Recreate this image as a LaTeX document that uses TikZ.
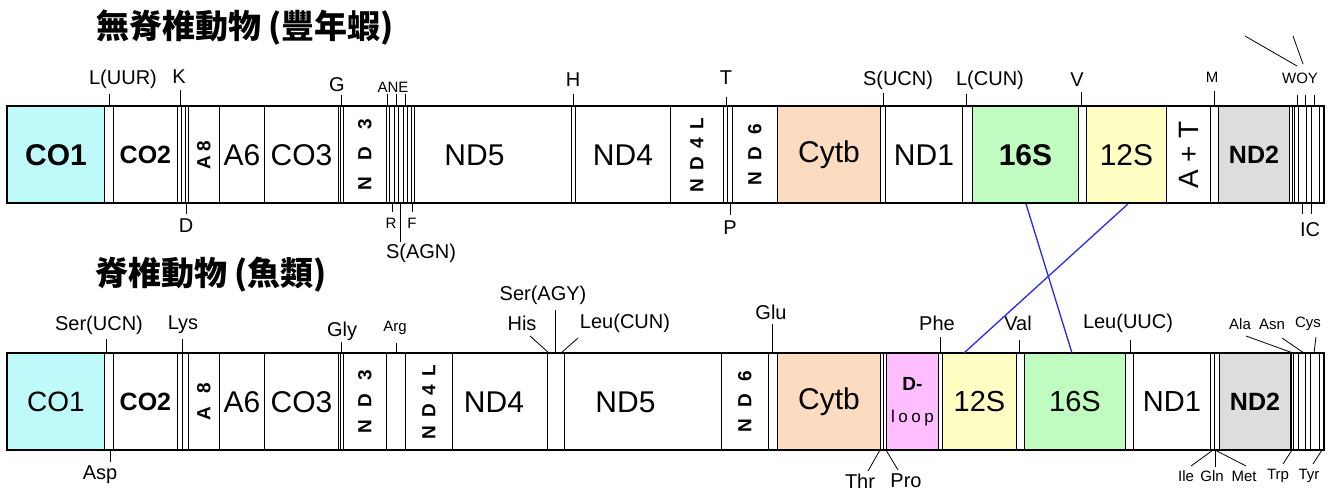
\documentclass[tikz,border=0pt]{standalone}
\usepackage{fontspec}
\setmainfont{Liberation Sans}
\newfontfamily\cjk{Noto Sans CJK TC}[BoldFont={Noto Sans CJK TC Black}]
\usepackage{tikz}
\usetikzlibrary{arrows.meta,positioning,calc}

\definecolor{coifill}{RGB}{191,250,250}
\definecolor{cytbfill}{RGB}{252,220,192}
\definecolor{rnalfill}{RGB}{192,252,192}
\definecolor{rnasfill}{RGB}{255,255,196}
\definecolor{ndiifill}{RGB}{221,221,221}
\definecolor{loopfill}{RGB}{255,190,255}
\definecolor{linkblue}{RGB}{40,40,245}

\begin{document}
\begin{tikzpicture}[x=1pt,y=-1pt,>=Latex]
  \tikzstyle{title}=[inner sep=0pt,font=\cjk\bfseries\fontsize{33}{36}\selectfont]
  \tikzstyle{gene}=[draw,line width=0.9pt,minimum height=97pt,inner sep=0pt,anchor=north west,font=\fontsize{30}{32}\selectfont]
  \tikzstyle{boldgene}=[gene,font=\fontsize{25}{27}\selectfont\bfseries]
  \tikzstyle{vgene}=[gene,font=\fontsize{19}{21}\selectfont\bfseries]
  \tikzstyle{strip}=[draw,line width=0.9pt,fill=white]
  \tikzstyle{lab}=[inner sep=0pt,font=\fontsize{20}{22}\selectfont]
  \tikzstyle{slab}=[inner sep=0pt,font=\fontsize{15}{17}\selectfont]
  \tikzstyle{tick}=[line width=0.8pt]
  \tikzstyle{link}=[line width=1.3pt,draw=linkblue]
  \useasboundingbox (0,0) rectangle (1331,492);

  % titles
  \node[title] (t-inv) at (245,28) {無脊椎動物 (豐年蝦)};
  \node[title] (t-vert) at (211,275) {脊椎動物 (魚類)};

  % invertebrate genome
  \foreach \a/\b in {104/113,177/181.5,181.5/185,185/188,338/340.5,340.5/343,386/389.3,389.3/394,394/398.7,398.7/403.3,403.3/407.7,407.7/411.7,411.7/414,571/575,723/727,727/732,880/885,962/972,1078/1086,1210/1218,1289/1292,1292/1294.3,1294.3/1298.3,1298.3/1306.7,1306.7/1311,1311/1319.3,1319.3/1324}
    \draw[strip] (\a,106) rectangle (\b,203);
  \node[gene,fill=coifill,minimum width=97pt,font=\fontsize{30}{32}\selectfont\bfseries] (a-co1) at (7,106) {CO1};
  \node[boldgene,minimum width=64pt] (a-co2) at (113,106) {CO2};
  \node[vgene,minimum width=31pt] (a-a8) at (188,106) {\rotatebox{90}{A\hspace{4pt}8}};
  \node[gene,minimum width=45pt] (a-a6) at (219,106) {A6};
  \node[gene,minimum width=74pt] (a-co3) at (264,106) {CO3};
  \node[vgene,minimum width=43pt] (a-nd3) at (343,106) {\rotatebox{90}{N\hspace{17pt}D\hspace{17pt}3}};
  \node[gene,minimum width=157pt] (a-nd5) at (414,106) {ND5\hspace*{37pt}};
  \node[gene,minimum width=95pt] (a-nd4) at (575,106) {ND4};
  \node[vgene,minimum width=53pt] (a-nd4l) at (670,106) {\rotatebox{90}{N\hspace{8.5pt}D\hspace{8.5pt}4\hspace{8.5pt}L}};
  \node[vgene,minimum width=45pt] (a-nd6) at (732,106) {\rotatebox{90}{N\hspace{12pt}D\hspace{12pt}6}};
  \node[gene,fill=cytbfill,minimum width=103pt] (a-cytb) at (777,106) {Cytb};
  \node[gene,minimum width=77pt] (a-nd1) at (885,106) {ND1};
  \node[gene,fill=rnalfill,minimum width=106pt,font=\fontsize{30}{32}\selectfont\bfseries] (a-16s) at (972,106) {16S};
  \node[gene,fill=rnasfill,minimum width=80pt] (a-12s) at (1086,106) {12S};
  \node[gene,minimum width=44pt,font=\fontsize{28}{30}\selectfont] (a-at) at (1166,106) {\rotatebox{90}{A + T}};
  \node[boldgene,fill=ndiifill,minimum width=71pt] (a-nd2) at (1218,106) {ND2};
  \draw[line width=1.6pt] (7,106) rectangle (1324,203);

  % invertebrate tRNA labels
  \node[lab] (l-luur) at (123,79) {L(UUR)};
  \node[lab] (l-k) at (179,77) {K};
  \node[lab] (l-g) at (337,85) {G};
  \node[slab] (l-ane) at (393,87) {ANE};
  \node[lab] (l-h) at (573,80) {H};
  \node[lab] (l-t) at (726,78) {T};
  \node[lab] (l-sucn) at (898,80) {S(UCN)};
  \node[lab] (l-lcun) at (990,80) {L(CUN)};
  \node[lab] (l-v) at (1077,80) {V};
  \node[slab] (l-m) at (1212,77) {M};
  \node[slab] (l-woy) at (1300,78) {WOY};
  \node[lab] (l-d) at (186,226) {D};
  \node[slab] (l-r) at (391,223) {R};
  \node[slab] (l-f) at (412,223) {F};
  \node[lab] (l-sagn) at (421,253) {S(AGN)};
  \node[lab] (l-p) at (730,228) {P};
  \node[lab] (l-ic) at (1310,230) {IC};

  \coordinate (k-luur) at (109,94);
  \coordinate (k-k) at (180,90);
  \coordinate (k-g) at (341,95);
  \coordinate (k-a) at (387,94);
  \coordinate (k-n) at (396,94);
  \coordinate (k-e) at (405,94);
  \coordinate (k-h) at (573,94);
  \coordinate (k-t) at (726,97);
  \coordinate (k-sucn) at (883,93);
  \coordinate (k-lcun) at (966,94);
  \coordinate (k-v) at (1081,92);
  \coordinate (k-m) at (1214,91);
  \coordinate (k-w) at (1297,95);
  \coordinate (k-o) at (1305,95);
  \coordinate (k-y) at (1314,95);
  \coordinate (k-d) at (186,214);
  \coordinate (k-r) at (392,212);
  \coordinate (k-sagn) at (400,242);
  \coordinate (k-f) at (412,212);
  \coordinate (k-p) at (730,215);
  \coordinate (k-i) at (1302,214);
  \coordinate (k-c) at (1311,214);
  \foreach \k in {luur,k,g,a,n,e,h,t,sucn,lcun,v,m,w,o,y}
    \draw[tick] (k-\k) -- (k-\k |- a-co1.north);
  \foreach \k in {d,r,sagn,f,p,i,c}
    \draw[tick] (k-\k |- a-co1.south) -- (k-\k);
  \coordinate (k-w2) at (1245,36);
  \coordinate (k-o2) at (1293,36);
  \draw[tick] (k-w2) -- (1297,66);
  \draw[tick] (k-o2) -- (1303,64);

  % vertebrate genome
  \foreach \a/\b in {104/113,177/182,182/188,338/340,340/343,386/405,547/564,768/777,880/883,883/886,938/942,1016/1024,1125/1133,1210/1214,1214/1219,1290/1291.7,1291.7/1293.3,1293.3/1298.3,1298.3/1305,1305/1310,1310/1319,1319/1324}
    \draw[strip] (\a,353) rectangle (\b,450);
  \node[gene,fill=coifill,minimum width=97pt,font=\fontsize{28}{30}\selectfont] (b-co1) at (7,353) {CO1};
  \node[boldgene,minimum width=64pt] (b-co2) at (113,353) {CO2};
  \node[vgene,minimum width=31pt] (b-a8) at (188,353) {\rotatebox{90}{A\hspace{13pt}8}};
  \node[gene,minimum width=45pt] (b-a6) at (219,353) {A6};
  \node[gene,minimum width=74pt] (b-co3) at (264,353) {CO3};
  \node[vgene,minimum width=43pt] (b-nd3) at (343,353) {\rotatebox{90}{N\hspace{13pt}D\hspace{13pt}3}};
  \node[vgene,minimum width=47pt] (b-nd4l) at (405,353) {\rotatebox{90}{N\hspace{8.5pt}D\hspace{8.5pt}4\hspace{8.5pt}L}};
  \node[gene,minimum width=95pt] (b-nd4) at (452,353) {ND4\hspace*{12pt}};
  \node[gene,minimum width=157pt] (b-nd5) at (564,353) {ND5\hspace*{35pt}};
  \node[vgene,minimum width=47pt] (b-nd6) at (721,353) {\rotatebox{90}{N\hspace{12pt}D\hspace{12pt}6}};
  \node[gene,fill=cytbfill,minimum width=103pt] (b-cytb) at (777,353) {Cytb};
  \node[gene,fill=loopfill,minimum width=52pt,align=center] (b-dloop) at (886,353)
    {{\fontsize{19}{24}\selectfont\bfseries D-}\\{\fontsize{17}{20}\selectfont l\hspace{3.5pt}o\hspace{3.5pt}o\hspace{3.5pt}p}};
  \node[gene,fill=rnasfill,minimum width=74pt,font=\fontsize{29}{31}\selectfont] (b-12s) at (942,353) {12S};
  \node[gene,fill=rnalfill,minimum width=101pt,font=\fontsize{29}{31}\selectfont] (b-16s) at (1024,353) {16S};
  \node[gene,minimum width=77pt,font=\fontsize{29}{31}\selectfont] (b-nd1) at (1133,353) {ND1};
  \node[boldgene,fill=ndiifill,minimum width=71pt] (b-nd2) at (1219,353) {ND2};
  \draw[line width=1.6pt] (7,353) rectangle (1324,450);

  % vertebrate tRNA labels
  \node[lab] (m-sucn) at (99,325) {Ser(UCN)};
  \node[lab] (m-lys) at (183,325) {Lys};
  \node[lab] (m-gly) at (342,331) {Gly};
  \node[slab] (m-arg) at (395,328) {Arg};
  \node[lab] (m-sagy) at (543,295) {Ser(AGY)};
  \node[lab] (m-his) at (522,323) {His};
  \node[lab] (m-lcun) at (625,323) {Leu(CUN)};
  \node[lab] (m-glu) at (771,312) {Glu};
  \node[lab] (m-phe) at (937,323) {Phe};
  \node[lab] (m-val) at (1018,323) {Val};
  \node[lab] (m-luuc) at (1128,323) {Leu(UUC)};
  \node[slab] (m-ala) at (1240,324) {Ala};
  \node[slab] (m-asn) at (1272,324) {Asn};
  \node[slab] (m-cys) at (1308,324) {Cys};
  \node[lab] (m-asp) at (100,475) {Asp};
  \node[lab] (m-thr) at (860,481) {Thr};
  \node[lab] (m-pro) at (906,481) {Pro};
  \node[slab] (m-ile) at (1186,476) {Ile};
  \node[slab] (m-gln) at (1212,476) {Gln};
  \node[slab] (m-met) at (1244,476) {Met};
  \node[slab] (m-trp) at (1278,476) {Trp};
  \node[slab] (m-tyr) at (1309,476) {Tyr};

  \coordinate (n-sucn) at (106,339);
  \coordinate (n-lys) at (182,339);
  \coordinate (n-gly) at (341,342);
  \coordinate (n-arg) at (396,343);
  \coordinate (n-sagy) at (555,310);
  \coordinate (n-glu) at (772,324);
  \coordinate (n-phe) at (940,337);
  \coordinate (n-val) at (1019,340);
  \coordinate (n-luuc) at (1130,340);
  \foreach \k in {sucn,lys,gly,arg,sagy,glu,phe,val,luuc}
    \draw[tick] (n-\k) -- (n-\k |- b-co1.north);
  \coordinate (n-asp) at (110,462);
  \draw[tick] (n-asp |- b-co1.south) -- (n-asp);
  \draw[tick] (530,336) -- (549,353);
  \draw[tick] (578,338) -- (561,353);
  \draw[tick] (1246,336) -- (1293,353);
  \draw[tick] (1282,338) -- (1304,353);
  \draw[tick] (1316,337) -- (1314,353);
  \draw[tick] (880,450) -- (868,471);
  \draw[tick] (886,450) -- (898,470);
  \draw[tick] (1213,450) -- (1191,466);
  \draw[tick] (1215,450) -- (1215,467);
  \draw[tick] (1215,450) -- (1246,466);
  \draw[tick] (1292,450) -- (1283,464);
  \draw[tick] (1322,450) -- (1313,464);

  % rRNA order swap
  \draw[link] ($(a-16s.south west)+(54,0)$) -- ($(b-16s.north west)+(48,0)$);
  \draw[link] ($(a-12s.south west)+(42,0)$) -- ($(b-12s.north west)+(22,0)$);
\end{tikzpicture}
\end{document}
